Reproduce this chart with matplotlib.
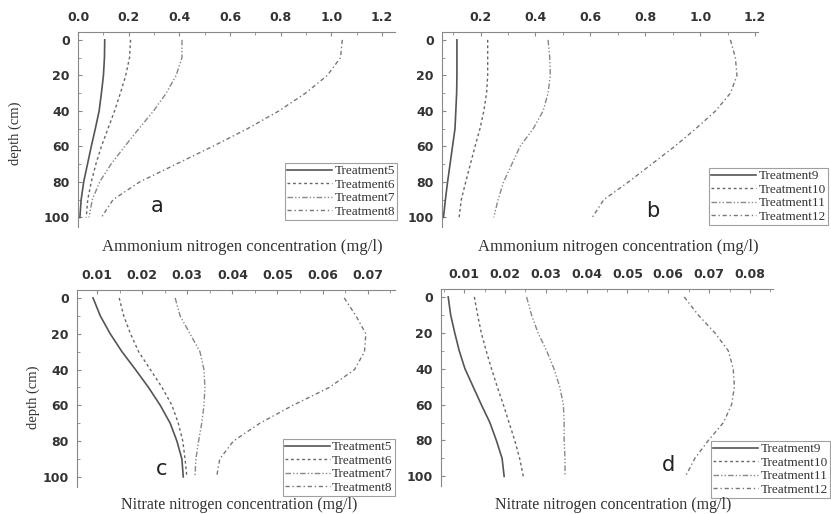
import numpy as np
import matplotlib
matplotlib.use('Agg')
import matplotlib.pyplot as plt
from matplotlib.ticker import MultipleLocator

# depth of the sampling points (cm)
depth = [0, 10, 20, 30, 40, 50, 60, 70, 80, 90, 100]

# panel a - ammonium nitrogen, treatments 5-8 (mg/l)
nh4_t5 = [0.105, 0.104, 0.100, 0.092, 0.083, 0.068, 0.052, 0.037, 0.022, 0.012, 0.007]
nh4_t6 = [0.207, 0.203, 0.188, 0.167, 0.144, 0.118, 0.092, 0.070, 0.052, 0.038, 0.032]
nh4_t7 = [0.410, 0.410, 0.387, 0.348, 0.298, 0.240, 0.184, 0.130, 0.085, 0.056, 0.043]
nh4_t8 = [1.043, 1.036, 0.984, 0.898, 0.793, 0.669, 0.531, 0.387, 0.243, 0.138, 0.092]

# panel b - ammonium nitrogen, treatments 9-12 (mg/l)
nh4_t9 = [0.114, 0.114, 0.114, 0.113, 0.110, 0.107, 0.098, 0.089, 0.080, 0.072, 0.065]
nh4_t10 = [0.226, 0.226, 0.226, 0.222, 0.212, 0.198, 0.180, 0.163, 0.146, 0.130, 0.122]
nh4_t11 = [0.446, 0.452, 0.454, 0.446, 0.428, 0.392, 0.344, 0.314, 0.284, 0.264, 0.248]
nh4_t12 = [1.110, 1.128, 1.134, 1.110, 1.056, 0.984, 0.907, 0.823, 0.739, 0.649, 0.607]

# panel c - nitrate nitrogen, treatments 5-8 (mg/l)
no3_t5 = [0.0091, 0.0107, 0.0129, 0.0155, 0.0185, 0.0214, 0.0240, 0.0262, 0.0277, 0.0288, 0.0291]
no3_t6 = [0.0149, 0.0159, 0.0174, 0.0192, 0.0218, 0.0244, 0.0266, 0.0280, 0.0290, 0.0295, 0.0299]
no3_t7 = [0.0273, 0.0284, 0.0306, 0.0328, 0.0337, 0.0339, 0.0337, 0.0332, 0.0325, 0.0319, 0.0317]
no3_t8 = [0.0648, 0.0674, 0.0696, 0.0693, 0.0671, 0.0615, 0.0534, 0.0461, 0.0402, 0.0372, 0.0365]

# panel d - nitrate nitrogen, treatments 9-12 (mg/l)
no3_t9 = [0.0061, 0.0067, 0.0077, 0.0088, 0.0102, 0.0122, 0.0142, 0.0163, 0.0179, 0.0193, 0.0198]
no3_t10 = [0.0125, 0.0133, 0.0142, 0.0154, 0.0167, 0.0181, 0.0196, 0.0210, 0.0224, 0.0236, 0.0245]
no3_t11 = [0.0253, 0.0265, 0.0281, 0.0302, 0.0320, 0.0334, 0.0343, 0.0345, 0.0345, 0.0347, 0.0347]
no3_t12 = [0.0639, 0.0673, 0.0714, 0.0747, 0.0759, 0.0762, 0.0755, 0.0735, 0.0698, 0.0665, 0.0642]

names_a = ['Treatment5', 'Treatment6', 'Treatment7', 'Treatment8']
names_b = ['Treatment9', 'Treatment10', 'Treatment11', 'Treatment12']

styles = ['-', (0, (2, 2)), (0, (4, 1.5, 1, 1.5, 1, 1.5)), (0, (3, 2, 1, 2))]
colors = ['#555555', '#666666', '#888888', '#777777']

serif = 'Liberation Serif'
sans = 'DejaVu Sans'

fig = plt.figure(figsize=(8.31, 5.14), dpi=100)

panels = [
    # rect, series, names, xlim, major, minor, fmt, letter pos, legend upper right, letter
    ([0.094, 0.558, 0.381, 0.380], [nh4_t5, nh4_t6, nh4_t7, nh4_t8], names_a,
     (0.0, 1.25), 0.2, 0.1, '%.1f', (0.189, 0.60), (0.478, 0.683), 'a'),
    ([0.532, 0.558, 0.380, 0.380], [nh4_t9, nh4_t10, nh4_t11, nh4_t12], names_b,
     (0.06, 1.21), 0.2, 0.1, '%.1f', (0.785, 0.59), (0.996, 0.673), 'b'),
    ([0.093, 0.053, 0.382, 0.383], [no3_t5, no3_t6, no3_t7, no3_t8], names_a,
     (0.0056, 0.076), 0.01, 0.005, '%.2f', (0.195, 0.088), (0.475, 0.146), 'c'),
    ([0.531, 0.054, 0.399, 0.384], [no3_t9, no3_t10, no3_t11, no3_t12], names_b,
     (0.0044, 0.0856), 0.01, 0.005, '%.2f', (0.804, 0.095), (0.999, 0.142), 'd'),
]

for rect, series, names, xlim, major, minor, fmt, letter_xy, leg_xy, letter in panels:
    ax = fig.add_axes(rect)
    for vals, name, ls, c in zip(series, names, styles, colors):
        ax.plot(vals, depth, linestyle=ls, color=c, lw=1.2 if ls == '-' else 1.0, label=name)
    ax.set_xlim(*xlim)
    ax.set_ylim(105.5, -4.5)
    ax.xaxis.tick_top()
    ax.xaxis.set_major_locator(MultipleLocator(major))
    ax.xaxis.set_minor_locator(MultipleLocator(minor))
    ax.xaxis.set_major_formatter(plt.FormatStrFormatter(fmt))
    ax.yaxis.set_major_locator(MultipleLocator(20))
    ax.yaxis.set_minor_locator(MultipleLocator(10))
    for s in ['bottom', 'right']:
        ax.spines[s].set_visible(False)
    for s in ['top', 'left']:
        ax.spines[s].set_color('#888888')
        ax.spines[s].set_linewidth(0.8)
    ax.tick_params(which='both', direction='in', colors='#888888', labelcolor='#333333',
                   labelsize=9)
    ax.tick_params(which='major', length=3, pad=6)
    ax.tick_params(which='minor', length=2)
    for lab in ax.get_xticklabels() + ax.get_yticklabels():
        lab.set_fontfamily(sans)
        lab.set_fontweight('bold')
    leg = ax.legend(loc='upper right', bbox_to_anchor=leg_xy, bbox_transform=fig.transFigure,
                    prop={'family': serif, 'size': 9.5}, frameon=True, fancybox=False,
                    borderpad=0.15, labelspacing=0.1, handlelength=3.4, handletextpad=0.2,
                    borderaxespad=0)
    leg.get_frame().set_edgecolor('#888888')
    leg.get_frame().set_linewidth(0.8)
    for t in leg.get_texts():
        t.set_color('#333333')
    fig.text(letter_xy[0], letter_xy[1], letter, fontfamily=sans, fontsize=15,
             color='#222222', ha='center', va='center')

# axis titles placed on the figure
fig.text(0.292, 0.519, 'Ammonium nitrogen concentration (mg/l)', fontfamily=serif,
         fontsize=12, color='#333333', ha='center', va='center')
fig.text(0.744, 0.519, 'Ammonium nitrogen concentration (mg/l)', fontfamily=serif,
         fontsize=12, color='#333333', ha='center', va='center')
fig.text(0.288, 0.018, 'Nitrate nitrogen concentration (mg/l)', fontfamily=serif,
         fontsize=11.5, color='#333333', ha='center', va='center')
fig.text(0.738, 0.018, 'Nitrate nitrogen concentration (mg/l)', fontfamily=serif,
         fontsize=11.5, color='#333333', ha='center', va='center')
fig.text(0.018, 0.740, 'depth (cm)', fontfamily=serif, fontsize=10.5, color='#333333',
         rotation=90, ha='center', va='center')
fig.text(0.040, 0.228, 'depth (cm)', fontfamily=serif, fontsize=10.5, color='#333333',
         rotation=90, ha='center', va='center')

fig.savefig('out.png', dpi=100)
